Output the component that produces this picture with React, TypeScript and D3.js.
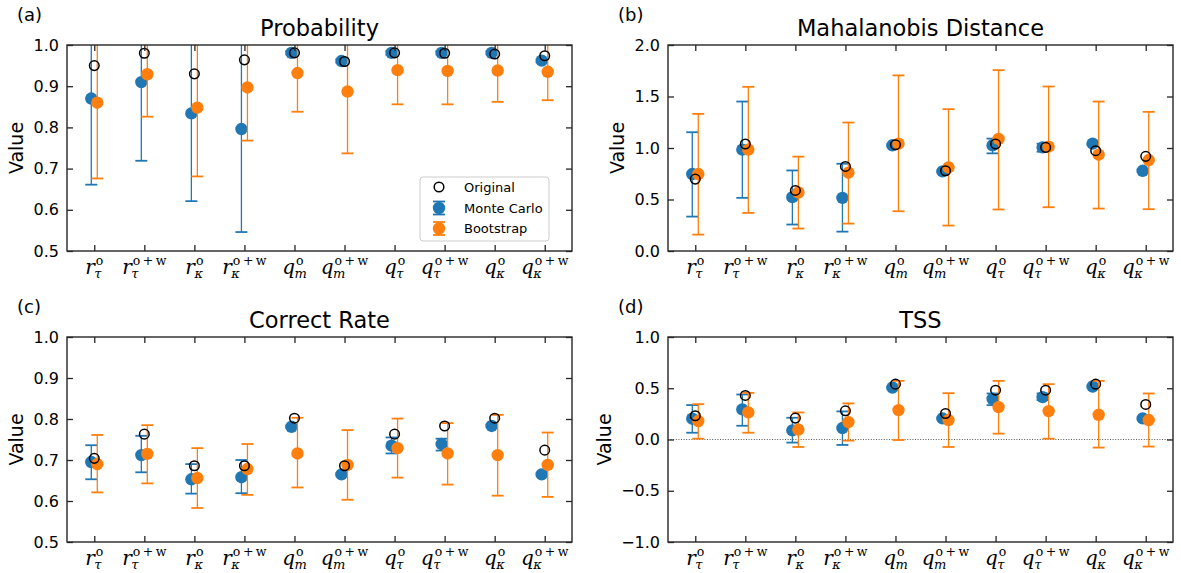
import React, { useEffect, useRef } from "react";
import * as d3 from "d3";

const W = 1181;
const H = 573;

// tick labels: base letter, subscript, superscript
const tickBase = ["r", "r", "r", "r", "q", "q", "q", "q", "q", "q"];
const tickSub = ["τ", "τ", "κ", "κ", "m", "m", "τ", "τ", "κ", "κ"];
const tickSup = ["o", "o+w", "o", "o+w", "o", "o+w", "o", "o+w", "o", "o+w"];

// (a) Probability
const probOrig = [0.95, 0.98, 0.93, 0.964, 0.981, 0.96, 0.981, 0.98, 0.978, 0.974];
const probMC = [0.87, 0.91, 0.834, 0.796, 0.981, 0.961, 0.981, 0.981, 0.981, 0.962];
const probMCLow = [0.661, 0.719, 0.621, 0.546, 0.977, 0.957, 0.976, 0.977, 0.977, 0.958];
const probMCHigh = [1.08, 1.1, 1.05, 1.04, 0.985, 0.965, 0.986, 0.985, 0.985, 0.966];
const probBS = [0.86, 0.929, 0.848, 0.897, 0.932, 0.887, 0.939, 0.937, 0.938, 0.935];
const probBSLow = [0.676, 0.826, 0.681, 0.768, 0.838, 0.737, 0.856, 0.856, 0.862, 0.866];
const probBSHigh = [1.04, 1.03, 1.02, 1.03, 1.03, 1.04, 1.02, 1.02, 1.02, 1.01];

// (b) Mahalanobis Distance
const mahaOrig = [0.698, 1.039, 0.588, 0.821, 1.032, 0.779, 1.039, 1.006, 0.974, 0.919];
const mahaMC = [0.747, 0.984, 0.523, 0.516, 1.026, 0.773, 1.026, 1.006, 1.042, 0.779];
const mahaMCLow = [0.334, 0.516, 0.257, 0.188, 1.016, 0.763, 0.948, 0.964, 1.032, 0.769];
const mahaMCHigh = [1.153, 1.451, 0.782, 0.847, 1.036, 0.783, 1.091, 1.042, 1.052, 0.789];
const mahaBS = [0.747, 0.984, 0.568, 0.76, 1.042, 0.812, 1.088, 1.013, 0.935, 0.883];
const mahaBSLow = [0.159, 0.37, 0.218, 0.266, 0.386, 0.247, 0.403, 0.425, 0.412, 0.406];
const mahaBSHigh = [1.331, 1.594, 0.916, 1.247, 1.705, 1.377, 1.756, 1.597, 1.451, 1.351];

// (c) Correct Rate
const crOrig = [0.704, 0.763, 0.686, 0.686, 0.802, 0.686, 0.763, 0.783, 0.802, 0.724];
const crMC = [0.695, 0.712, 0.653, 0.658, 0.781, 0.665, 0.735, 0.739, 0.783, 0.665];
const crMCLow = [0.653, 0.67, 0.618, 0.619, 0.778, 0.662, 0.716, 0.723, 0.78, 0.662];
const crMCHigh = [0.736, 0.759, 0.69, 0.7, 0.784, 0.668, 0.755, 0.752, 0.786, 0.668];
const crBS = [0.69, 0.715, 0.656, 0.678, 0.716, 0.688, 0.729, 0.716, 0.712, 0.688];
const crBSLow = [0.621, 0.643, 0.583, 0.615, 0.633, 0.603, 0.657, 0.64, 0.613, 0.61];
const crBSHigh = [0.761, 0.785, 0.729, 0.739, 0.803, 0.773, 0.801, 0.79, 0.81, 0.767];

// (d) TSS
const tssOrig = [0.232, 0.43, 0.209, 0.28, 0.54, 0.254, 0.481, 0.481, 0.54, 0.342];
const tssMC = [0.203, 0.294, 0.089, 0.112, 0.507, 0.206, 0.397, 0.413, 0.517, 0.206];
const tssMCLow = [0.066, 0.134, -0.03, -0.053, 0.497, 0.196, 0.335, 0.384, 0.507, 0.196];
const tssMCHigh = [0.336, 0.439, 0.212, 0.274, 0.517, 0.216, 0.449, 0.449, 0.527, 0.216];
const tssBS = [0.18, 0.264, 0.096, 0.17, 0.287, 0.19, 0.316, 0.277, 0.241, 0.19];
const tssBSLow = [0.008, 0.066, -0.073, -0.011, -0.005, -0.073, 0.057, 0.008, -0.079, -0.069];
const tssBSHigh = [0.345, 0.455, 0.264, 0.352, 0.572, 0.452, 0.572, 0.54, 0.572, 0.449];

const blue = "#1f77b4";
const orange = "#ff7f0e";
const spineColor = "#262626";
const sans = "DejaVu Sans, sans-serif";
const serif = "DejaVu Serif, serif";

interface Panel {
  tag: string;
  title: string;
  left: number;
  right: number;
  top: number;
  bottom: number;
  domain: [number, number];
  ticks: number[];
  orig: number[];
  mc: number[];
  mcLow: number[];
  mcHigh: number[];
  bs: number[];
  bsLow: number[];
  bsHigh: number[];
  labelOffset: number;
  zeroLine?: boolean;
  legend?: boolean;
}

const panels: Panel[] = [
  {
    tag: "a", title: "Probability", left: 67, right: 572, top: 45, bottom: 251,
    domain: [0.5, 1.0], ticks: [0.5, 0.6, 0.7, 0.8, 0.9, 1.0],
    orig: probOrig, mc: probMC, mcLow: probMCLow, mcHigh: probMCHigh,
    bs: probBS, bsLow: probBSLow, bsHigh: probBSHigh, labelOffset: 51, legend: true,
  },
  {
    tag: "b", title: "Mahalanobis Distance", left: 668, right: 1173, top: 45, bottom: 251,
    domain: [0, 2], ticks: [0, 0.5, 1, 1.5, 2],
    orig: mahaOrig, mc: mahaMC, mcLow: mahaMCLow, mcHigh: mahaMCHigh,
    bs: mahaBS, bsLow: mahaBSLow, bsHigh: mahaBSHigh, labelOffset: 51,
  },
  {
    tag: "c", title: "Correct Rate", left: 67, right: 572, top: 337, bottom: 542,
    domain: [0.5, 1.0], ticks: [0.5, 0.6, 0.7, 0.8, 0.9, 1.0],
    orig: crOrig, mc: crMC, mcLow: crMCLow, mcHigh: crMCHigh,
    bs: crBS, bsLow: crBSLow, bsHigh: crBSHigh, labelOffset: 51,
  },
  {
    tag: "d", title: "TSS", left: 668, right: 1173, top: 337, bottom: 542,
    domain: [-1, 1], ticks: [-1, -0.5, 0, 0.5, 1],
    orig: tssOrig, mc: tssMC, mcLow: tssMCLow, mcHigh: tssMCHigh,
    bs: tssBS, bsLow: tssBSLow, bsHigh: tssBSHigh, labelOffset: 64, zeroLine: true,
  },
];

function drawErrorSeries(
  g: d3.Selection<SVGGElement, unknown, null, undefined>,
  x: d3.ScaleLinear<number, number>,
  y: d3.ScaleLinear<number, number>,
  vals: number[], lows: number[], highs: number[], shift: number, color: string
) {
  const idx = d3.range(vals.length);
  g.selectAll(null).data(idx).enter().append("line")
    .attr("x1", i => x(i + shift)).attr("x2", i => x(i + shift))
    .attr("y1", i => y(lows[i])).attr("y2", i => y(highs[i]))
    .attr("stroke", color).attr("stroke-width", 1.3);
  [lows, highs].forEach(arr => {
    g.selectAll(null).data(idx).enter().append("line")
      .attr("x1", i => x(i + shift) - 6).attr("x2", i => x(i + shift) + 6)
      .attr("y1", i => y(arr[i])).attr("y2", i => y(arr[i]))
      .attr("stroke", color).attr("stroke-width", 1.8);
  });
  g.selectAll(null).data(idx).enter().append("circle")
    .attr("cx", i => x(i + shift)).attr("cy", i => y(vals[i]))
    .attr("r", 6.2).attr("fill", color);
}

function drawPanel(svg: d3.Selection<SVGSVGElement, unknown, null, undefined>, p: Panel) {
  const x = d3.scaleLinear().domain([-0.545, 9.545]).range([p.left, p.right]);
  const y = d3.scaleLinear().domain(p.domain).range([p.bottom, p.top]);
  const fmt = d3.format(".1f");
  const g = svg.append("g");

  const clipId = `clip-${p.tag}`;
  g.append("clipPath").attr("id", clipId).append("rect")
    .attr("x", p.left).attr("y", p.top)
    .attr("width", p.right - p.left).attr("height", p.bottom - p.top);

  const marks = g.append("g").attr("clip-path", `url(#${clipId})`);

  if (p.zeroLine) {
    marks.append("line")
      .attr("x1", p.left).attr("x2", p.right)
      .attr("y1", y(0)).attr("y2", y(0))
      .attr("stroke", "#444").attr("stroke-width", 0.9)
      .attr("stroke-dasharray", "1,1.6");
  }

  drawErrorSeries(marks, x, y, p.mc, p.mcLow, p.mcHigh, -0.06, blue);
  drawErrorSeries(marks, x, y, p.bs, p.bsLow, p.bsHigh, 0.06, orange);

  marks.selectAll(null).data(d3.range(p.orig.length)).enter().append("circle")
    .attr("cx", i => x(i)).attr("cy", i => y(p.orig[i]))
    .attr("r", 4.8).attr("fill", "none")
    .attr("stroke", "#000").attr("stroke-width", 1.5);

  const styleAxis = (ax: d3.Selection<SVGGElement, unknown, null, undefined>) => {
    ax.select(".domain").remove();
    ax.selectAll(".tick line").attr("stroke", spineColor).attr("stroke-width", 1.3);
    ax.selectAll(".tick text")
      .attr("fill", "#000")
      .style("font-family", sans)
      .style("font-size", "16px");
  };

  const tickIdx = d3.range(10);
  g.append("g").attr("transform", `translate(${p.left},0)`)
    .call(d3.axisLeft(y).tickValues(p.ticks).tickSize(-6).tickPadding(8).tickFormat(d => fmt(d as number)))
    .call(styleAxis);
  g.append("g").attr("transform", `translate(${p.right},0)`)
    .call(d3.axisRight(y).tickValues(p.ticks).tickSize(-6).tickFormat(() => ""))
    .call(styleAxis);
  g.append("g").attr("transform", `translate(0,${p.top})`)
    .call(d3.axisTop(x).tickValues(tickIdx).tickSize(-6).tickFormat(() => ""))
    .call(styleAxis);
  g.append("g").attr("transform", `translate(0,${p.bottom})`)
    .call(d3.axisBottom(x).tickValues(tickIdx).tickSize(-6).tickFormat(() => ""))
    .call(styleAxis);

  // spines
  g.append("rect")
    .attr("x", p.left).attr("y", p.top)
    .attr("width", p.right - p.left).attr("height", p.bottom - p.top)
    .attr("fill", "none").attr("stroke", spineColor).attr("stroke-width", 1.4);

  // math tick labels
  tickIdx.forEach(i => {
    const lg = g.append("g");
    const main = lg.append("text")
      .attr("x", 0).attr("y", p.bottom + 22.5)
      .style("font-family", serif).style("font-style", "italic").style("font-size", "20px")
      .text(tickBase[i]);
    const mw = (main.node() as SVGTextElement).getComputedTextLength();
    const sup = lg.append("text")
      .attr("x", mw + 1).attr("y", p.bottom + 14)
      .style("font-family", serif).style("font-size", "12.5px")
      .text(tickSup[i].replace("+", "\u2009+\u2009"));
    const sub = lg.append("text")
      .attr("x", mw - 0.5).attr("y", p.bottom + 27)
      .style("font-family", serif).style("font-style", "italic").style("font-size", "13px")
      .text(tickSub[i]);
    const sw = Math.max(
      (sup.node() as SVGTextElement).getComputedTextLength() + 1,
      (sub.node() as SVGTextElement).getComputedTextLength() - 0.5
    );
    lg.attr("transform", `translate(${x(i) - (mw + sw) / 2},0)`);
  });

  // y label
  g.append("text")
    .attr("transform", `translate(${p.left - p.labelOffset},${(p.top + p.bottom) / 2}) rotate(-90)`)
    .attr("text-anchor", "middle").attr("dy", "0.35em")
    .style("font-family", sans).style("font-size", "19px")
    .text("Value");

  // title
  g.append("text")
    .attr("x", (p.left + p.right) / 2).attr("y", p.top - 9)
    .attr("text-anchor", "middle")
    .style("font-family", sans).style("font-size", "22.5px")
    .text(p.title);

  // panel tag
  g.append("text")
    .attr("x", p.left - 50).attr("y", p.top - 24.5)
    .style("font-family", sans).style("font-size", "18px")
    .text(`(${p.tag})`);

  if (p.legend) {
    const lx = 420, ly = 177;
    const leg = g.append("g");
    leg.append("rect")
      .attr("x", lx).attr("y", ly).attr("width", 129).attr("height", 64).attr("rx", 3)
      .attr("fill", "#fff").attr("fill-opacity", 0.8)
      .attr("stroke", "#cccccc").attr("stroke-width", 1);
    const mx = 439;
    const rows = [187, 208, 228.5];
    leg.append("circle").attr("cx", mx).attr("cy", rows[0]).attr("r", 4.8)
      .attr("fill", "none").attr("stroke", "#000").attr("stroke-width", 1.5);
    [[rows[1], blue], [rows[2], orange]].forEach(([cy, c]) => {
      const yy = cy as number;
      const col = c as string;
      leg.append("line").attr("x1", mx).attr("x2", mx).attr("y1", yy - 6.5).attr("y2", yy + 6.5)
        .attr("stroke", col).attr("stroke-width", 1.3);
      [yy - 6.5, yy + 6.5].forEach(cyy => {
        leg.append("line").attr("x1", mx - 6).attr("x2", mx + 6).attr("y1", cyy).attr("y2", cyy)
          .attr("stroke", col).attr("stroke-width", 1.8);
      });
      leg.append("circle").attr("cx", mx).attr("cy", yy).attr("r", 6.2).attr("fill", col);
    });
    ["Original", "Monte Carlo", "Bootstrap"].forEach((t, k) => {
      leg.append("text")
        .attr("x", 464).attr("y", rows[k]).attr("dy", "0.36em")
        .style("font-family", sans).style("font-size", "13px")
        .text(t);
    });
  }
}

export default function App() {
  const svgRef = useRef<SVGSVGElement>(null);

  useEffect(() => {
    if (!svgRef.current) return;
    const svg = d3.select(svgRef.current);
    svg.selectAll("*").remove();
    svg.append("rect").attr("width", W).attr("height", H).attr("fill", "#fff");
    panels.forEach(p => drawPanel(svg, p));
  }, []);

  return (
    <div style={{ position: "fixed", left: 0, top: 0 }}>
      <svg ref={svgRef} width={W} height={H} style={{ display: "block" }} />
    </div>
  );
}
